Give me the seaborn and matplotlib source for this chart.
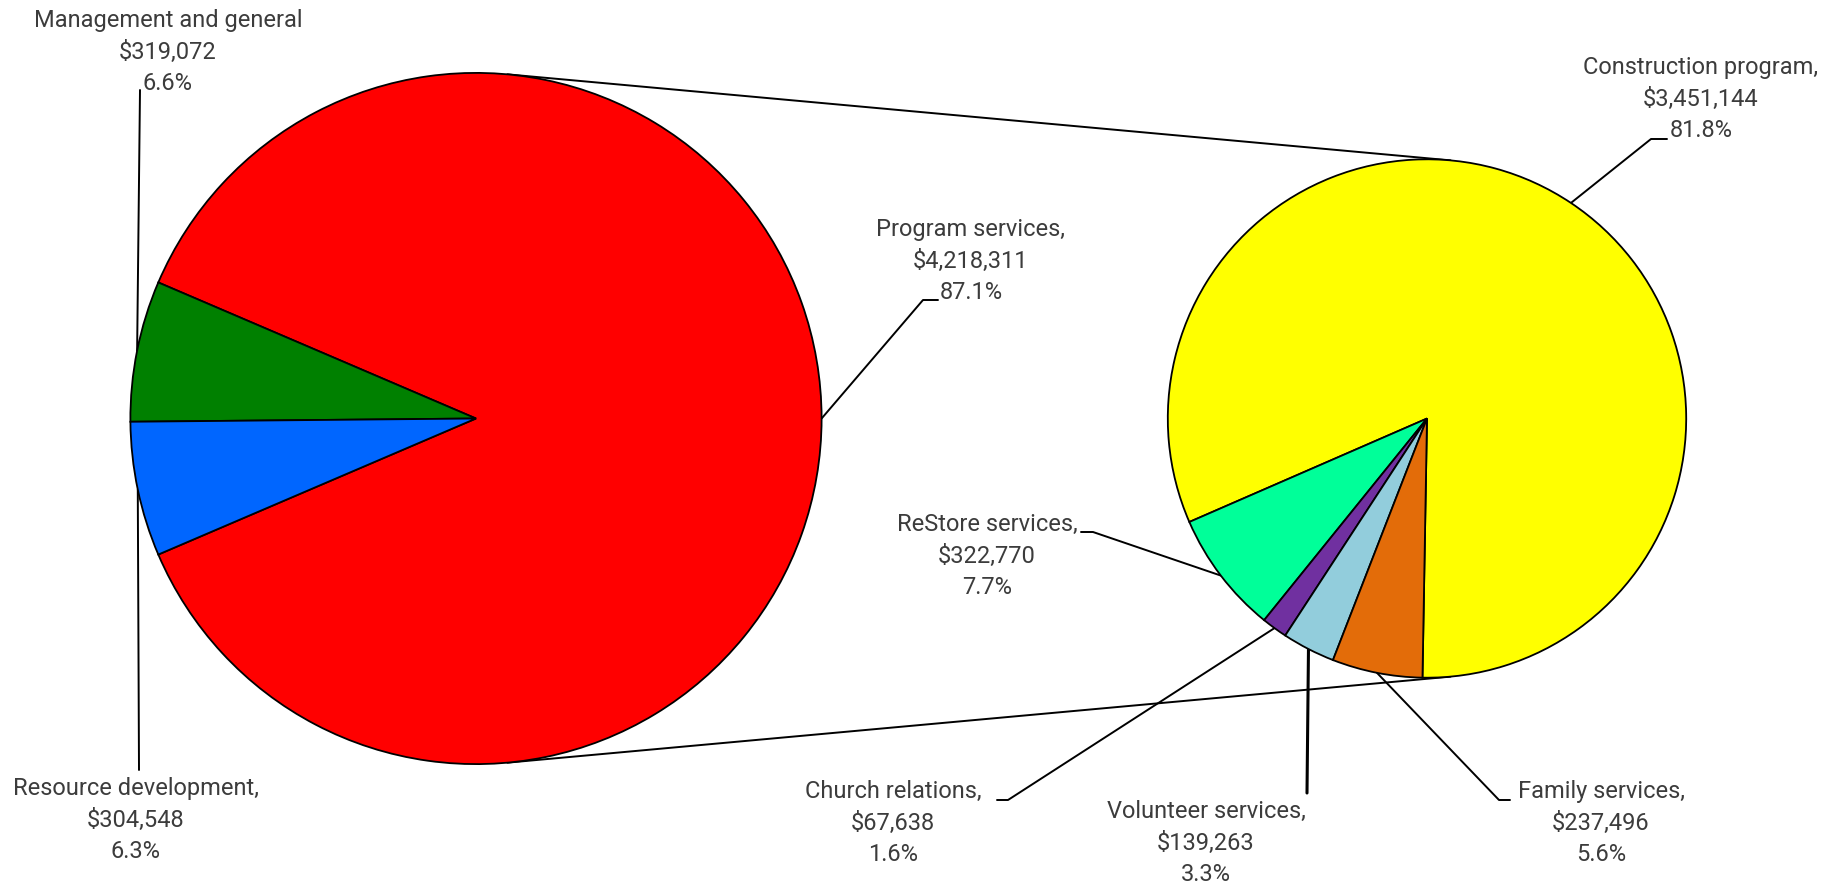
import numpy as np
import matplotlib
matplotlib.use("Agg")
import matplotlib.pyplot as plt
import seaborn as sns

# ---------------- data ----------------
main_labels = ["Program services", "Management and general", "Resource development"]
main_values = [4218311, 319072, 304548]
main_colors = ["#FF0000", "#008000", "#0066FF"]

sub_labels = ["Construction program", "ReStore services", "Church relations",
              "Volunteer services", "Family services"]
sub_values = [3451144, 322770, 67638, 139263, 237496]
sub_colors = ["#FFFF00", "#00FF99", "#7030A0", "#92CDDC", "#E36C09"]

# ---------------- style ----------------
sns.set_theme(style="white")
plt.rcParams["font.family"] = ["Roboto", "DejaVu Sans"]
TXT = "#3c3c3c"

W, H = 1843, 886
fig = plt.figure(figsize=(W / 100, H / 100), dpi=100)
ax = fig.add_axes([0, 0, 1, 1])

def P(x, y):
    """layout helper: pixel from top-left -> axes data (y up)"""
    return x, H - y

# layout
c1, r1 = P(476, 418.5), 345.6
c2, r2 = P(1427, 418.5), 259.2
start1 = -main_values[0] / sum(main_values) * 180.0
start2 = -91.0
wp = dict(edgecolor="black", linewidth=1.3)

w1, _ = ax.pie(main_values, colors=main_colors, center=c1, radius=r1,
               startangle=start1, counterclock=True, wedgeprops=wp, frame=True)
w2, _ = ax.pie(sub_values, colors=sub_colors, center=c2, radius=r2,
               startangle=start2, counterclock=True, wedgeprops=wp, frame=True)
for w in list(w1) + list(w2):
    w.set_zorder(3)

def mid_point(wedge, center, r):
    a = np.deg2rad((wedge.theta1 + wedge.theta2) / 2.0)
    return center[0] + r * np.cos(a), center[1] + r * np.sin(a)

# external tangents between the two pies
d = np.hypot(c2[0] - c1[0], c2[1] - c1[1])
alpha = np.arcsin((r1 - r2) / d)
for sgn in (1, -1):
    ang = sgn * (np.pi / 2 - alpha)
    p1 = (c1[0] + r1 * np.cos(ang), c1[1] + r1 * np.sin(ang))
    p2 = (c2[0] + r2 * np.cos(ang), c2[1] + r2 * np.sin(ang))
    ax.plot([p1[0], p2[0]], [p1[1], p2[1]], color="black", lw=1.4, zorder=2)

def fmt(lbl, v, tot, comma=True):
    return f"{lbl}{',' if comma else ''}\n${v:,.0f}\n{v / tot * 100:.1f}%"

FS = 17
LS = 1.45
tot1 = sum(main_values)
tot2 = sum(sub_values)

main_layout = [
    (P(971, 261), [P(938, 300), P(923, 300)], True),
    (P(168, 52), [P(140, 90)], False),
    (P(136, 820), [P(139, 770)], True),
]
for wdg, lbl, val, (tp, pts, comma) in zip(w1, main_labels, main_values, main_layout):
    ax.text(tp[0], tp[1], fmt(lbl, val, tot1, comma), ha="center", va="center",
            fontsize=FS, color=TXT, linespacing=LS, zorder=5)
    a = mid_point(wdg, c1, r1)
    xs = [p[0] for p in pts] + [a[0]]
    ys = [p[1] for p in pts] + [a[1]]
    ax.plot(xs, ys, color="black", lw=1.4, zorder=2)

sub_layout = [
    (P(1701, 99), [P(1667, 139), P(1651, 139)]),
    (P(987, 556), [P(1081, 532), P(1093, 532)]),
    (P(893, 823), [P(997, 800), P(1008, 800)]),
    (P(1206, 843), [P(1307, 793)]),
    (P(1601, 823), [P(1510, 800), P(1499, 800)]),
]
for wdg, lbl, val, (tp, pts) in zip(w2, sub_labels, sub_values, sub_layout):
    ax.text(tp[0], tp[1], fmt(lbl, val, tot2), ha="center", va="center",
            fontsize=FS, color=TXT, linespacing=LS, zorder=5)
    a = mid_point(wdg, c2, r2)
    xs = [p[0] for p in pts] + [a[0]]
    ys = [p[1] for p in pts] + [a[1]]
    ax.plot(xs, ys, color="black", lw=2.2 if lbl.startswith("Volunteer") else 1.4, zorder=2)

ax.set_xlim(0, W)
ax.set_ylim(0, H)
ax.set_aspect("equal")
ax.axis("off")
fig.savefig("out.png", dpi=100, facecolor="white")
